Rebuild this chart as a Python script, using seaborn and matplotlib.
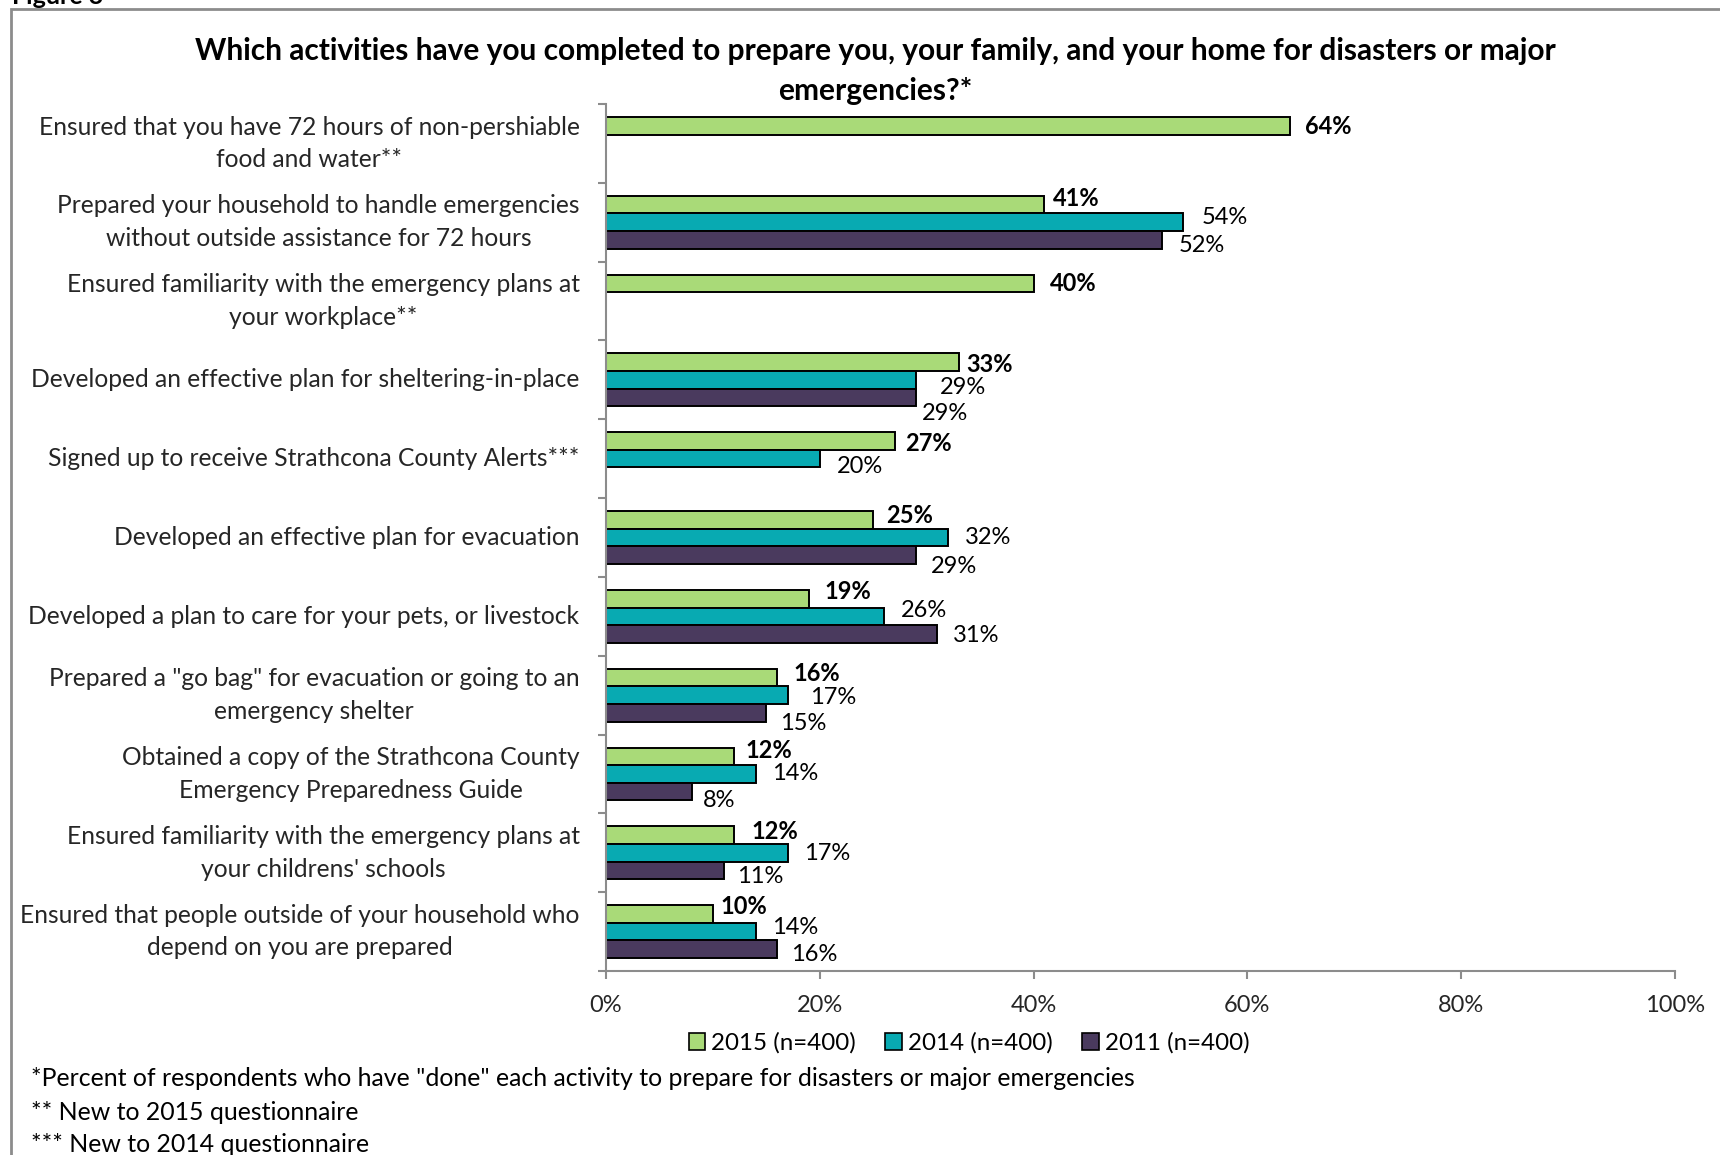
import numpy as np
import pandas as pd
import matplotlib
matplotlib.use("Agg")
import matplotlib.pyplot as plt
from matplotlib.patches import Patch, Rectangle
from matplotlib.ticker import FuncFormatter
import seaborn as sns

# ---- data ----------------------------------------------------------------
activities = [
    "Ensured that you have 72 hours of non-pershiable\nfood and water**",
    "Prepared your household to handle emergencies\nwithout outside assistance for 72 hours",
    "Ensured familiarity with the emergency plans at\nyour workplace**",
    "Developed an effective plan for sheltering-in-place",
    "Signed up to receive Strathcona County Alerts***",
    "Developed an effective plan for evacuation",
    "Developed a plan to care for your pets, or livestock",
    "Prepared a \"go bag\" for evacuation or going to an\nemergency shelter",
    "Obtained a copy of the Strathcona County\nEmergency Preparedness Guide",
    "Ensured familiarity with the emergency plans at\nyour childrens' schools",
    "Ensured that people outside of your household who\ndepend on you are prepared",
]
years = ["2015 (n=400)", "2014 (n=400)", "2011 (n=400)"]
pct_2015 = [64, 41, 40, 33, 27, 25, 19, 16, 12, 12, 10]
pct_2014 = [np.nan, 54, np.nan, 29, 20, 32, 26, 17, 14, 17, 14]
pct_2011 = [np.nan, 52, np.nan, 29, np.nan, 29, 31, 15, 8, 11, 16]

title = ("Which activities have you completed to prepare you, your family, and your home for disasters or major\n"
         "emergencies?*")
footnotes = [
    "*Percent of respondents who have \"done\" each activity to prepare for disasters or major emergencies",
    "** New to 2015 questionnaire",
    "*** New to 2014 questionnaire",
]

# ---- label placement (points from the bar end, per series and activity) ---
label_dx = [
    [11.0, 6.3, 11.9, 5.5, 7.9, 9.5, 11.0, 11.9, 7.9, 12.6, 5.5],
    [0, 13.4, 0, 17.4, 12.6, 11.9, 11.9, 15.8, 11.9, 11.9, 11.9],
    [0, 11.9, 0, 4.0, 0, 11.0, 11.0, 9.5, 7.9, 9.5, 10.3],
]
label_dy = [
    [-0.8, 4.7, 0, -1.6, -1.6, 3.2, 5.5, 3.2, 4.0, 2.4, 5.5],
    [0, 3.2, 0, -5.5, -5.5, 0, 4.0, -1.6, 0, -0.8, 3.2],
    [0, -4.0, 0, -11.9, 0, -7.9, -0.8, -7.9, -6.3, -4.7, -4.0],
]

# ---- styling ---------------------------------------------------------------
colors = ["#A9DA78", "#08AAB2", "#4A3A5E"]
grey = "#8C8C8C"
W, H = 1720, 1155

sns.set_theme(style="white")
plt.rcParams["font.family"] = ["Lato", "DejaVu Sans"]
plt.rcParams["text.color"] = "black"

df = pd.DataFrame({
    "activity": np.tile(activities, 3),
    "year": np.repeat(years, len(activities)),
    "pct": np.concatenate([pct_2015, pct_2014, pct_2011]),
})

fig = plt.figure(figsize=(W / 100, H / 100), dpi=100)
ax = fig.add_axes([606 / W, 1 - 971 / H, (1675 - 606) / W, (971 - 104) / H])

sns.barplot(data=df, y="activity", x="pct", hue="year", order=activities,
            hue_order=years, palette=colors, saturation=1, orient="h", width=0.67,
            edgecolor="black", linewidth=1.4, legend=False, ax=ax)

# value labels, placed just past the end of each bar
label_fs = 17
tick_fs = 17.7
for i, cont in enumerate(ax.containers):
    for bar in cont:
        w = bar.get_width()
        if np.isnan(w):
            continue
        yc = bar.get_y() + bar.get_height() / 2
        k = int(round(yc))
        ax.annotate(f"{w:.0f}%", xy=(w, yc), xytext=(label_dx[i][k], label_dy[i][k]),
                    textcoords="offset points", ha="left", va="center",
                    fontsize=label_fs, fontweight="bold" if i == 0 else "normal")

# axes
ax.set_xlim(0, 100)
ax.set_ylim(len(activities) - 0.5, -0.5)
ax.set_xticks(np.arange(0, 101, 20))
ax.xaxis.set_major_formatter(FuncFormatter(lambda v, p: f"{v:.0f}%"))
ax.set_xlabel("")
ax.set_ylabel("")
ax.set_yticks(np.arange(len(activities)))
ax.set_yticklabels(activities)
for lbl in ax.get_yticklabels():
    lbl.set_multialignment("center")
    lbl.set_linespacing(1.5)
    lbl.set_verticalalignment("center")
ax.set_yticks(np.arange(-0.5, len(activities), 1), minor=True)
ax.tick_params(axis="y", which="major", length=0, pad=19, labelsize=tick_fs)
ax.tick_params(axis="y", which="minor", length=6, width=1.5, color=grey, left=True)
ax.tick_params(axis="x", which="major", length=6, width=1.5, color=grey, bottom=True,
               pad=11, labelsize=label_fs)
for side in ["top", "right"]:
    ax.spines[side].set_visible(False)
for side in ["left", "bottom"]:
    ax.spines[side].set_color(grey)
    ax.spines[side].set_linewidth(1.5)
ax.grid(False)

# title
fig.text(875 / W, 1 - 71 / H, title, ha="center", va="center", fontsize=21.5,
         fontweight="bold", linespacing=1.5)

# legend
handles = [Patch(facecolor=c, edgecolor="black", linewidth=1.2, label=y)
           for c, y in zip(colors, years)]
fig.legend(handles=handles, loc="center", bbox_to_anchor=(969 / W, 1 - 1043 / H),
           ncol=3, frameon=False, fontsize=17.4, handlelength=0.7,
           handleheight=0.7, handletextpad=0.25, columnspacing=1.2)

# footnotes
for note, ypx in zip(footnotes, [1079, 1112, 1144]):
    fig.text(31 / W, 1 - ypx / H, note, ha="left", va="center", fontsize=17.9)

# frame around the figure and its caption
fig.add_artist(Rectangle((11 / W, -0.2), 2, 1.2 - 9 / H, transform=fig.transFigure,
                         fill=False, edgecolor=grey, linewidth=2))
fig.text(12 / W, 1 - 4 / H, "Figure 3", ha="left", va="baseline", fontsize=18,
         fontweight="bold")

fig.savefig("out.png", dpi=100, facecolor="white")
